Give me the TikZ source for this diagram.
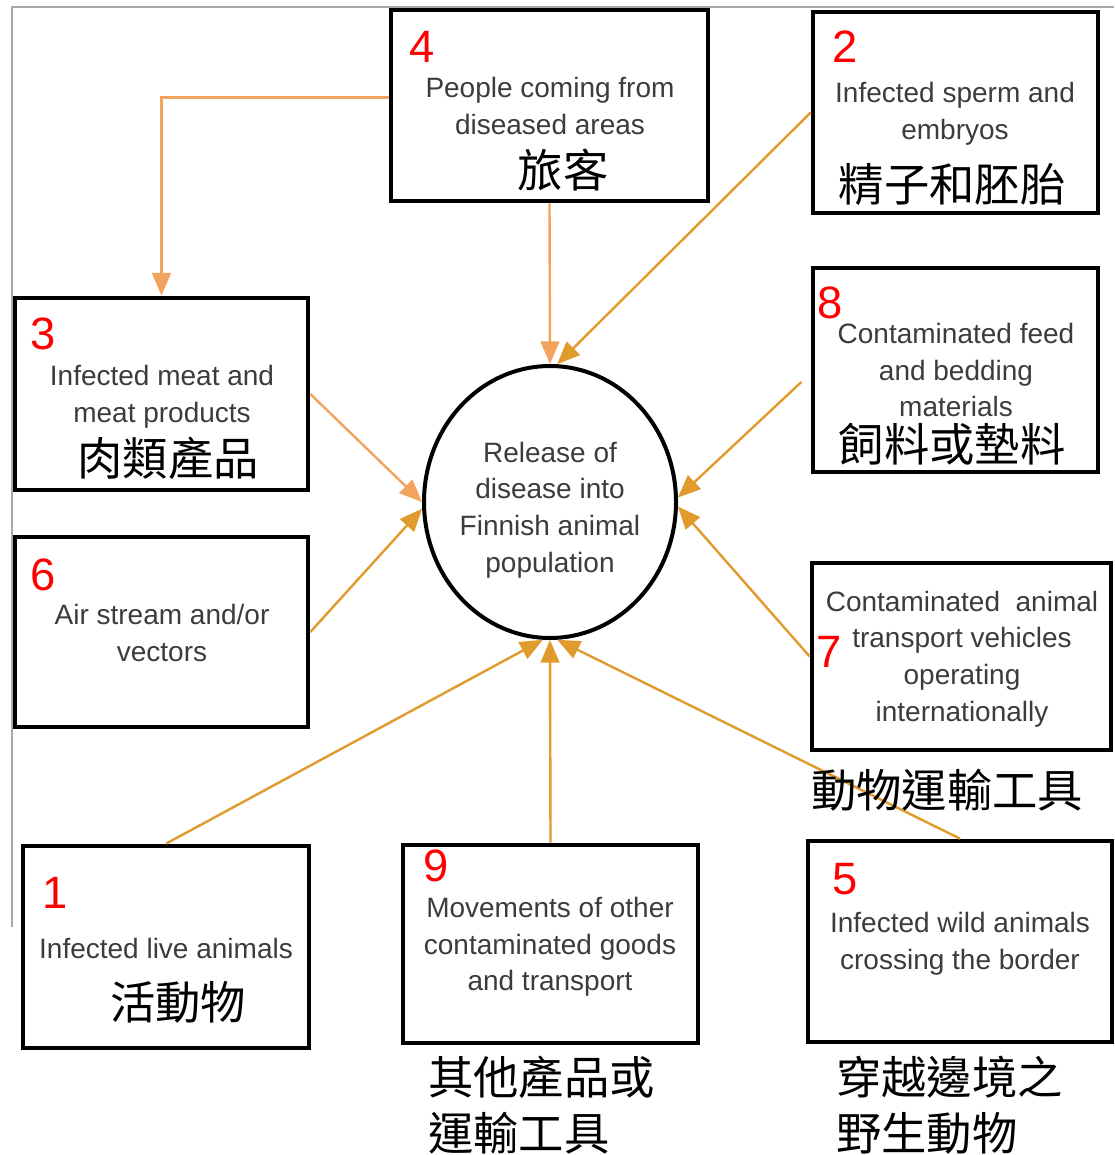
\documentclass[tikz,border=0pt]{standalone}
\usepackage{fontspec}
\setmainfont{Liberation Sans}
\newfontfamily\cjk{Noto Sans CJK TC}
\usetikzlibrary{arrows.meta,fit,shapes.geometric}
\definecolor{txtgray}{HTML}{3C3C3C}
\definecolor{lorange}{HTML}{F2A35E}
\definecolor{dorange}{HTML}{E09B2C}
\definecolor{framegray}{HTML}{A8A8A8}
\begin{document}
\begin{tikzpicture}[x=0.75pt,y=-0.75pt,
  box/.style={draw=black,line width=3.5pt,inner sep=0pt,fill=white},
  en/.style={font=\fontsize{21}{27.5}\selectfont,text=txtgray,align=center,inner sep=0pt},
  num/.style={font=\fontsize{34}{34}\selectfont,text=red,inner sep=0pt},
  zh/.style={font=\cjk\fontsize{34}{42}\selectfont,text=black,inner sep=0pt},
  arr/.style={line width=1.8pt,-{Triangle[length=17pt,width=14pt]}},
  larr/.style={arr,draw=lorange},
  darr/.style={arr,draw=dorange}]
\useasboundingbox (0,0) rectangle (1114,1155);
\fill[white] (0,0) rectangle (1114,1155);
\draw[framegray,line width=0.8pt] (12,927) -- (12,7) -- (1114,7);

% boxes
\node[box,fit={(391,10)(708,201)}] (b4) {};
\node[box,fit={(813,12)(1098,213)}] (b2) {};
\node[box,fit={(813,268)(1098,472)}] (b8) {};
\node[box,fit={(15,298)(308,490)}] (b3) {};
\node[box,fit={(15,537)(308,727)}] (b6) {};
\node[box,fit={(812,563)(1111,750)}] (b7) {};
\node[box,fit={(23,846)(309,1048)}] (b1) {};
\node[box,fit={(403,845)(698,1043)}] (b9) {};
\node[box,fit={(808,841)(1112,1042)}] (b5) {};
\node[draw=black,ellipse,line width=3pt,fill=white,minimum width=189pt,minimum height=204pt,inner sep=0pt] (c) at (550,502) {};

% connectors
\draw[larr] ([yshift=6pt]b4.west) -| (b3.north);
\draw[larr] (b4.south) -- (c.north);
\draw[darr] (b2.west) -- (c.87);
\draw[larr] (b3.east) -- (c.180);
\draw[darr] (b6.east) -- (c.183);
\draw[darr] ([xshift=-7pt,yshift=-9pt]b8.west) -- (c.2);
\draw[darr] (b7.west) -- (c.-2);
\draw[darr] (b1.north) -- (c.267);
\draw[darr] (b9.north) -- (c.south);
\draw[darr] (b5.north) -- (c.273);

% numbers
\node[num] (n4) at (422,47) {4};
\node[num] (n2) at (845,47) {2};
\node[num] (n8) at (830,303) {8};
\node[num] (n3) at (43,334) {3};
\node[num] (n6) at (43,575) {6};
\node[num] (n7) at (829,652) {7};
\node[num] (n1) at (55,893) {1};
\node[num] (n9) at (436,866) {9};
\node[num] (n5) at (845,879) {5};

% english texts
\node[en] (t4) at (550,106) {People coming from\\diseased areas};
\node[en] (t2) at (955,114) {Infected sperm and\\embryos};
\node[en] (t8) at (956,370) {Contaminated feed\\and bedding\\materials};
\node[en] (t3) at (162,397) {Infected meat and\\meat products};
\node[en] (t6) at (162,633) {Air stream and/or\\vectors};
\node[en] (tc) at (550,510) {Release of\\disease into\\Finnish animal\\population};
\node[en] (t7) at (962,659) {Contaminated\ \ animal\\transport vehicles\\operating\\internationally};
\node[en] (t1) at (166,948) {Infected live animals};
\node[en] (t9) at (550,947) {Movements of other\\contaminated goods\\and transport};
\node[en] (t5) at (960,944) {Infected wild animals\\crossing the border};

% chinese texts
\node[zh] (z4) at (563,170) {旅客};
\node[zh] (z2) at (952,185) {精子和胚胎};
\node[zh] (z8) at (952,444) {飼料或墊料};
\node[zh] (z3) at (168,458) {肉類產品};
\node[zh] (z1) at (178,1002) {活動物};
\node[zh] (z7) at (947,790) {動物運輸工具};
\node[zh,anchor=west] (z9a) at (428,1077) {其他產品或};
\node[zh,anchor=west] (z9b) at (428,1133) {運輸工具};
\node[zh,anchor=west] (z5a) at (836,1077) {穿越邊境之};
\node[zh,anchor=west] (z5b) at (836,1133) {野生動物};
\end{tikzpicture}
\end{document}
